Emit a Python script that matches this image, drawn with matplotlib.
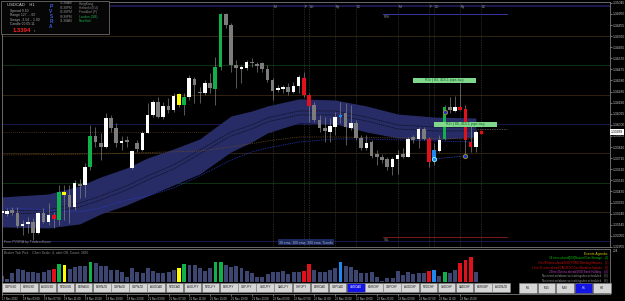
import numpy as np
import matplotlib
matplotlib.use('Agg')
import matplotlib.pyplot as plt
from matplotlib.patches import Rectangle

plt.rcParams['font.family'] = ['Liberation Sans', 'DejaVu Sans']

# ---- data (USDCAD H1) ----
opens = [1.33246, 1.33237, 1.33271, 1.33246, 1.33134, 1.33152, 1.33169, 1.33075, 1.33246, 1.33169,
         1.33229, 1.33186, 1.33425, 1.33400, 1.33297, 1.33494, 1.33485, 1.33639, 1.33905, 1.33845,
         1.33811, 1.34059, 1.33973, 1.33845, 1.33871, 1.33631, 1.33845, 1.33785, 1.33931, 1.34085,
         1.34196, 1.34067, 1.34162, 1.34127, 1.34170, 1.34170, 1.34239, 1.34393, 1.34282, 1.34273,
         1.34358, 1.34307, 1.34495, 1.34949, 1.34855, 1.34513, 1.34478, 1.34487, 1.34538, 1.34521,
         1.34530, 1.34478, 1.34384, 1.34299, 1.34307, 1.34324, 1.34282, 1.34333, 1.34401, 1.34256,
         1.34170, 1.34042, 1.33973, 1.33939, 1.33982, 1.34067, 1.34102, 1.33973, 1.34016, 1.33888,
         1.33802, 1.33853, 1.33751, 1.33725, 1.33708, 1.33639, 1.33708, 1.33751, 1.33725, 1.33896,
         1.33879, 1.33965, 1.33879, 1.33708, 1.33776, 1.33879, 1.34153, 1.34119, 1.34153, 1.34136,
         1.33853, 1.33811]
highs = [1.33280, 1.33289, 1.33297, 1.33297, 1.33186, 1.33212, 1.33203, 1.33254, 1.33289, 1.33331,
         1.33254, 1.33485, 1.33485, 1.33485, 1.33528, 1.33537, 1.33674, 1.33999, 1.33982, 1.33931,
         1.34102, 1.34085, 1.34016, 1.33905, 1.33905, 1.33785, 1.33871, 1.33948, 1.34187, 1.34213,
         1.34239, 1.34196, 1.34230, 1.34273, 1.34273, 1.34273, 1.34427, 1.34410, 1.34324, 1.34384,
         1.34444, 1.34581, 1.34958, 1.34958, 1.34872, 1.34555, 1.34513, 1.34555, 1.34573, 1.34538,
         1.34538, 1.34513, 1.34401, 1.34341, 1.34341, 1.34358, 1.34367, 1.34427, 1.34453, 1.34273,
         1.34196, 1.34085, 1.34067, 1.34059, 1.34110, 1.34196, 1.34187, 1.34170, 1.34042, 1.33913,
         1.33913, 1.33871, 1.33785, 1.33751, 1.33725, 1.33725, 1.33785, 1.33802, 1.33896, 1.33913,
         1.33982, 1.33982, 1.33896, 1.33845, 1.33913, 1.34170, 1.34239, 1.34247, 1.34358, 1.34170,
         1.34025, 1.33956]
lows = [1.33229, 1.33220, 1.33229, 1.33117, 1.33057, 1.33075, 1.33014, 1.33066, 1.33160, 1.33143,
        1.33117, 1.33143, 1.33186, 1.33160, 1.33271, 1.33374, 1.33383, 1.33614, 1.33811, 1.33699,
        1.33802, 1.33939, 1.33811, 1.33785, 1.33811, 1.33622, 1.33768, 1.33776, 1.33931, 1.34067,
        1.34059, 1.34050, 1.34102, 1.34110, 1.34153, 1.34085, 1.34213, 1.34187, 1.34187, 1.34256,
        1.34273, 1.34170, 1.34470, 1.34829, 1.34453, 1.34316, 1.34358, 1.34470, 1.34495, 1.34453,
        1.34453, 1.34367, 1.34213, 1.34282, 1.34273, 1.34256, 1.34273, 1.34273, 1.34239, 1.34025,
        1.34025, 1.33939, 1.33853, 1.33853, 1.33913, 1.34016, 1.33828, 1.33956, 1.33871, 1.33785,
        1.33785, 1.33717, 1.33657, 1.33674, 1.33614, 1.33571, 1.33579, 1.33717, 1.33725, 1.33845,
        1.33802, 1.33871, 1.33639, 1.33657, 1.33768, 1.33871, 1.34102, 1.34110, 1.34127, 1.33725,
        1.33768, 1.33768]
closes = [1.33263, 1.33263, 1.33246, 1.33134, 1.33152, 1.33169, 1.33075, 1.33246, 1.33169, 1.33229,
          1.33194, 1.33425, 1.33400, 1.33297, 1.33502, 1.33477, 1.33639, 1.33905, 1.33853, 1.33811,
          1.34059, 1.33973, 1.33845, 1.33862, 1.33853, 1.33776, 1.33794, 1.33931, 1.34085, 1.34196,
          1.34067, 1.34162, 1.34127, 1.34247, 1.34264, 1.34239, 1.34401, 1.34341, 1.34273, 1.34358,
          1.34316, 1.34495, 1.34949, 1.34855, 1.34513, 1.34487, 1.34495, 1.34538, 1.34530, 1.34504,
          1.34478, 1.34384, 1.34290, 1.34316, 1.34324, 1.34282, 1.34333, 1.34410, 1.34256, 1.34162,
          1.34042, 1.33973, 1.33948, 1.33991, 1.34067, 1.34085, 1.33982, 1.34016, 1.33888, 1.33802,
          1.33845, 1.33734, 1.33725, 1.33699, 1.33639, 1.33708, 1.33742, 1.33725, 1.33879, 1.33871,
          1.33965, 1.33879, 1.33682, 1.33785, 1.33871, 1.34153, 1.34127, 1.34153, 1.34130, 1.33871,
          1.33811, 1.33939]
# PVSRA candle class: w normal up, g normal down, G/R climax, B above average, Y marked
candle_class = ("wwggwwgwgw" "RGYgwgwGgg" "wggwgwgwww" "gwgwYGwggw" "gGGgggwwgg"
                "gggwwgwwRR" "gggwwBgwgg" "wggggwwgwg" "wgRBwGgwRR" "Rw")
ticks_volume = [66, 33, 89, 132, 122, 109, 99, 89, 99, 122, 132, 188, 175, 132, 155, 165, 165, 205, 198, 165,
                165, 122, 122, 99, 50, 142, 99, 89, 149, 115, 89, 89, 99, 122, 142, 188, 172, 172, 142, 115,
                142, 208, 208, 172, 155, 165, 142, 115, 89, 50, 50, 83, 109, 109, 115, 83, 99, 109, 115, 182,
                122, 99, 109, 122, 149, 205, 165, 155, 122, 89, 89, 99, 56, 17, 43, 43, 115, 76, 99, 83,
                89, 89, 115, 122, 66, 99, 89, 122, 198, 221, 254, 109]

# ema channel, read at a few bars
band_idx = [0, 9, 15, 19, 24, 28, 33, 38, 44, 48, 51, 57, 64, 70, 76, 83, 91]
band_upper = [1.33383, 1.33408, 1.33477, 1.33554, 1.33631, 1.33717, 1.33794, 1.33879, 1.34076,
              1.34119, 1.34162, 1.34222, 1.34213, 1.34162, 1.34093, 1.34067, 1.34059]
band_lower = [1.33126, 1.33117, 1.33152, 1.33237, 1.33314, 1.33391, 1.33485, 1.33580, 1.33768,
              1.33853, 1.33931, 1.34016, 1.34008, 1.33939, 1.33888, 1.33871, 1.33896]
ema_a = [1.33263, 1.33271, 1.33331, 1.33391, 1.33477, 1.33562, 1.33657, 1.33785, 1.33939,
         1.33999, 1.34059, 1.34119, 1.34119, 1.34067, 1.33999, 1.33982, 1.33973]
ema_b = [1.33237, 1.33246, 1.33297, 1.33357, 1.33443, 1.33528, 1.33622, 1.33751, 1.33905,
         1.33965, 1.34025, 1.34085, 1.34085, 1.34033, 1.33965, 1.33948, 1.33948]
ema_blue = [1.33289, 1.33271, 1.33254, 1.33289, 1.33357, 1.33391, 1.33460, 1.33562, 1.33699,
            1.33768, 1.33802, 1.33853, 1.33879, 1.33879, 1.33871, 1.33862, 1.33853]
ema200_idx = [0, 19, 38, 44, 51, 57, 64, 76, 91]
ema200 = [1.33742, 1.33751, 1.33776, 1.33811, 1.33862, 1.33896, 1.33896, 1.33888, 1.33879]

pivot_levels = [1.35018, 1.34761, 1.34513, 1.34256, 1.34008, 1.33759, 1.33502, 1.33254, 1.33006]
pivot_kinds = ['n', 'b', 'g', 'b', 'n', 'b', 'g', 'b', 'n']
prev_close_level = 1.33939
r2h_level, s1l_level = 1.34949, 1.33040

session_idx = [52, 58, 59, 64, 68, 76, 82, 83, 88, 92]
session_lbl = ['M', 'F', 'LO', 'Ny', 'LC', 'M', 'F', 'LO', 'Ny', 'LC']

signal_idx = [83, 85, 89]
signal_price = [1.33708, 1.34110, 1.33734]
range_boxes = [(85, 1.34380, 'R3r | 83, 415.1 pips avg'), (89, 1.34003, 'R2r | 85, 415.1 pips avg')]

price_ticks = [1.35045, 1.34950, 1.34855, 1.34760, 1.34665, 1.34570, 1.34475, 1.34380, 1.34285,
               1.34190, 1.34095, 1.34000, 1.33905, 1.33810, 1.33715, 1.33620, 1.33525, 1.33430,
               1.33335, 1.33240, 1.33145, 1.33050, 1.32955]
time_labels = ['17 Nov 2022', '18 Nov 03:00', '18 Nov 07:00', '18 Nov 11:00', '18 Nov 15:00',
               '18 Nov 19:00', '18 Nov 23:00', '21 Nov 03:00', '21 Nov 07:00', '21 Nov 11:00',
               '21 Nov 15:00', '21 Nov 19:00', '21 Nov 23:00', '22 Nov 03:00', '22 Nov 07:00',
               '22 Nov 11:00', '22 Nov 15:00', '22 Nov 19:00', '22 Nov 23:00', '23 Nov 03:00',
               '23 Nov 07:00', '23 Nov 11:00', '23 Nov 15:00']
symbols = ['GBPUSD', 'EURUSD', 'AUDUSD', 'NZDUSD', 'EURAUD', 'EURNZD', 'GBPAUD', 'GBPNZD', 'AUDCAD',
           'NZDCAD', 'AUDJPY', 'NZDJPY', 'EURJPY', 'GBPJPY', 'USDJPY', 'CADJPY', 'CHFJPY', 'EURCAD',
           'GBPCAD', 'USDCAD', 'EURCHF', 'GBPCHF', 'AUDCHF', 'NZDCHF', 'USDCHF', 'CADCHF', 'EURGBP', 'AUDNZD']
timeframes = ['M5', 'M15', 'M30', 'H1', 'H4']
events = [('Events Agenda:', '#d0d000'),
          ('34 mins ahead/[US]Natural Gas Storage    (1)', '#00c000'),
          ('2hrs/39mins ahead/USD FOMC Meeting Minutes    (2)', '#d01010'),
          ('1 hrs 51 mins ahead/CAD BOC Gov Macklem Speaks    (3)', '#d01010'),
          ('23hrs/39mins ahead/USD Bank Holiday    (4)', '#c040c0'),
          ('No event on/above set settings/no scheduled    (5)', '#9a9a9a'),
          ('No event on/above set settings/no scheduled    (6)', '#9a9a9a')]

assert len(opens) == len(highs) == len(lows) == len(closes) == len(candle_class) == len(ticks_volume)

# ---- layout (pixels of the 625x301 screenshot) ----
W, H = 625, 301
X0, DX = 1.7, 5.21        # pixel x of bar 0, pixels per bar
BG = 'black'
FRAME = '#7a7a7a'
body_col = {'w': '#ffffff', 'g': '#7c7c7c', 'G': '#12b04a', 'R': '#e0101c', 'B': '#1e88f0', 'Y': '#ffff00'}
vol_col = {'w': '#3d4670', 'g': '#3d4670', 'G': '#12b04a', 'R': '#e0101c', 'B': '#1e88f0', 'Y': '#ffff00'}
pivot_col = {'n': '#1c1c58', 'b': '#3a2812', 'g': '#0e3a14'}


def fbox(x0, y0, x1, y1):
    return [x0 / W, 1 - y1 / H, (x1 - x0) / W, (y1 - y0) / H]


def bar_of(px):
    return (px - X0) / DX


fig = plt.figure(figsize=(W / 100, H / 100), dpi=100, facecolor=BG)

# main price window
ax = fig.add_axes(fbox(2, 2, 610, 247), facecolor=BG)
ax.set_xlim(bar_of(2), bar_of(610))
ax.set_ylim(1.32954, 1.35052)
for s in ax.spines.values():
    s.set_color(FRAME)
    s.set_linewidth(0.6)

for lvl, k in zip(pivot_levels, pivot_kinds):
    ax.axhline(lvl, color=pivot_col[k], lw=1.3 if lvl == pivot_levels[0] else 0.6, zorder=1)

ax.plot([0, 52], [prev_close_level] * 2, color='#5a3a18', lw=0.6, ls=(0, (1, 1.5)), zorder=2)

for i, lbl in zip(session_idx, session_lbl):
    ax.axvline(i, color='#4a4a4a', lw=0.5, ls=(0, (1, 1.5)), zorder=1)
    ax.text(i + 0.2, 1.35010, lbl, color='#9a9a9a', fontsize=2.4, va='center', ha='left')

ax.plot([73.2, 97], [r2h_level] * 2, color='#3535a8', lw=0.7, zorder=2)
ax.text(73.3, r2h_level - 0.00022, 'R2H', color='#8a8a8a', fontsize=2.3, va='center')
ax.plot([73.2, 97], [s1l_level] * 2, color='#7a1818', lw=0.7, zorder=2)
ax.text(73.3, s1l_level - 0.00022, 'S1L', color='#8a8a8a', fontsize=2.3, va='center')

# ema channel
ax.fill_between(band_idx, band_lower, band_upper, color='#272c66', lw=0, zorder=2)
ax.plot(band_idx, ema_a, color='#111122', lw=0.6, ls=(0, (1.5, 0.8)), zorder=3)
ax.plot(band_idx, ema_b, color='#111122', lw=0.6, ls=(0, (1.5, 0.8)), zorder=3)
ax.plot(band_idx, ema_blue, color='#2a3cc8', lw=0.6, ls=(0, (1, 1.2)), zorder=3)
ax.plot(ema200_idx, ema200, color='#6b4a20', lw=0.6, ls=(0, (1, 1.2)), zorder=3)

# candles
idx = np.arange(len(opens))
o, h, l, c = map(np.array, (opens, highs, lows, closes))
cols = [body_col[k] for k in candle_class]
ax.vlines(idx, l, h, color='#8a8a8a', lw=0.45, zorder=4)
bottoms = np.minimum(o, c)
heights = np.maximum(np.abs(c - o), 0.00009)
ax.bar(idx, heights, bottom=bottoms, width=0.7, color=cols, lw=0, zorder=5)

# signals, range boxes, last price marker
ax.plot([signal_idx[0], signal_idx[2]], [signal_price[0], signal_price[2]],
        color='#2f4cc0', lw=0.6, ls=(0, (1, 1)), zorder=5)
ax.scatter(signal_idx[:1], signal_price[:1], s=9, facecolor='#1e88f0', edgecolor='#7fe8ff', lw=0.7, zorder=6)
ax.scatter(signal_idx[1:], signal_price[1:], s=9, facecolor='#1030e0', edgecolor='#9a8a20', lw=0.7, zorder=6)
for bi, bp, txt in range_boxes:
    ax.add_patch(Rectangle((bi - 6.05, bp - 0.000214), 12.1, 0.000428, facecolor='#7fd88c',
                           edgecolor='none', zorder=6))
    ax.text(bi, bp, txt, color='#1d5a2a', fontsize=2.6, ha='center', va='center', zorder=7)
ax.plot([91.2, 97], [1.33965] * 2, color='#6a6a6a', lw=0.5, ls=(0, (2, 1.5)), zorder=4)
ax.scatter([92], [closes[-1]], s=1.5, marker='s', color='#e01010', zorder=6)

ax.set_xticks([])
ax.yaxis.tick_right()
ax.set_yticks(price_ticks)
ax.set_yticklabels([f'{p:.5f}' for p in price_ticks])
ax.tick_params(axis='y', labelsize=2.4, colors='#c8c8c8', length=1.2, width=0.4, pad=0.8)
ax.text(1.0015, closes[-1], f'{closes[-1]:.5f}', transform=ax.get_yaxis_transform(), fontsize=2.4,
        color='black', va='center', ha='left',
        bbox=dict(facecolor='white', edgecolor='none', pad=0.4), zorder=8)

ax.text(0.003, 0.012, 'Free PVSRA by TradersHome', transform=ax.transAxes, color='#8a8a8a',
        fontsize=2.5, va='bottom')
ax.text(bar_of(306), 0.012, '30 ema, 100 ema, 200 ema  Trends', transform=ax.get_xaxis_transform(),
        color='#aab0d8', fontsize=2.4, ha='center', va='bottom',
        bbox=dict(facecolor='#1b2a5c', edgecolor='none', pad=0.8))

# tick volume window
vx = fig.add_axes(fbox(2, 249, 610, 294), facecolor=BG)
vx.set_xlim(bar_of(2), bar_of(610))
vx.set_ylim(-119, 337)
for s in vx.spines.values():
    s.set_color(FRAME)
    s.set_linewidth(0.6)
vx.bar(idx, ticks_volume, width=0.75, color=[vol_col[k] for k in candle_class], lw=0)
vx.set_yticks([])
vx.set_xticks(np.arange(len(time_labels)) * 4)
vx.set_xticklabels(time_labels)
vx.tick_params(axis='x', labelsize=2.0, colors='#c8c8c8', length=1.2, width=0.4, pad=0.6)
for t in vx.get_xticklabels():
    t.set_ha('left')
vx.text(0.003, 0.93, 'Broker Tick Pick    Chart Scale: 4, alert:Off, Count: 3866', transform=vx.transAxes,
        color='#8a8a8a', fontsize=2.4, va='center')
vx.text(1.004, 0.95, '234', transform=vx.transAxes, color='#c8c8c8', fontsize=2.3, va='center')

# overlay in screen pixels: info panel, buttons, agenda
ov = fig.add_axes([0, 0, 1, 1])
ov.set_xlim(0, W)
ov.set_ylim(H, 0)
ov.axis('off')
ov.patch.set_alpha(0)

ov.add_patch(Rectangle((1, 1), 108, 33, facecolor='#060606', edgecolor='#6a6a6a', lw=0.6))
ov.text(7, 4.5, 'USDCAD    H1', color='#d8d8d8', fontsize=3.0, va='center')
info = ['Spread 0.50', 'Range 127 ... 60', 'Swaps -3.54 .. 1.90', 'Candle 00:05:11']
for k, t in enumerate(info):
    ov.text(10, 10.7 + 4.4 * k, t, color='#a8a8a8', fontsize=2.4, va='center')
ov.text(13, 31, f'{closes[-1]:.4f}', color='#ff2020', fontsize=4.2, fontweight='bold', va='center')
ov.text(34, 31.5, 'r', color='#a8a8a8', fontsize=2.4, va='center')
for k, ch in enumerate('PVSRA'):
    ov.text(51, 6 + 5.2 * k, ch, color='#3a62d8', fontsize=3.4, fontweight='bold', ha='center', va='center')
clock_t = ['12:38AM', '06:38PM', '05:38PM', '08:38PM', '11:38AM']
clock_c = ['HongKong', 'Helsinki (EU)', 'Frankfurt (F)', 'London (GB)', 'NewYork']
for k, (t, cname) in enumerate(zip(clock_t, clock_c)):
    ov.text(60, 3.5 + 4.4 * k, t, color='#8a8a8a', fontsize=2.3, va='center')
    ov.text(79, 3.5 + 4.4 * k, cname, color='#22b04a' if k >= 3 else '#8a8a8a', fontsize=2.3, va='center')

bw = (510 - 2) / len(symbols)
for k, sym in enumerate(symbols):
    sel = sym == 'USDCAD'
    ov.add_patch(Rectangle((2 + k * bw + 0.3, 283), bw - 0.6, 9, facecolor='#1414e6' if sel else '#d6d6d6',
                           edgecolor='#8a8a8a', lw=0.4))
    ov.text(2 + (k + 0.5) * bw, 287.5, sym, color='white' if sel else '#202020', fontsize=2.1,
            ha='center', va='center')
tw = (611 - 519) / len(timeframes)
for k, tf in enumerate(timeframes):
    sel = tf == 'H1'
    ov.add_patch(Rectangle((519 + k * tw + 0.3, 283), tw - 0.6, 10, facecolor='#1414e6' if sel else '#d6d6d6',
                           edgecolor='#8a8a8a', lw=0.4))
    ov.text(519 + (k + 0.5) * tw, 288, tf, color='white' if sel else '#202020', fontsize=2.2,
            ha='center', va='center')

for k, (t, col) in enumerate(events):
    ov.text(608, 254 + 4.5 * k, t, color=col, fontsize=2.4 if k == 0 else 2.1, ha='right', va='center',
            zorder=3)

fig.savefig('out.png', dpi=100, facecolor=BG)
